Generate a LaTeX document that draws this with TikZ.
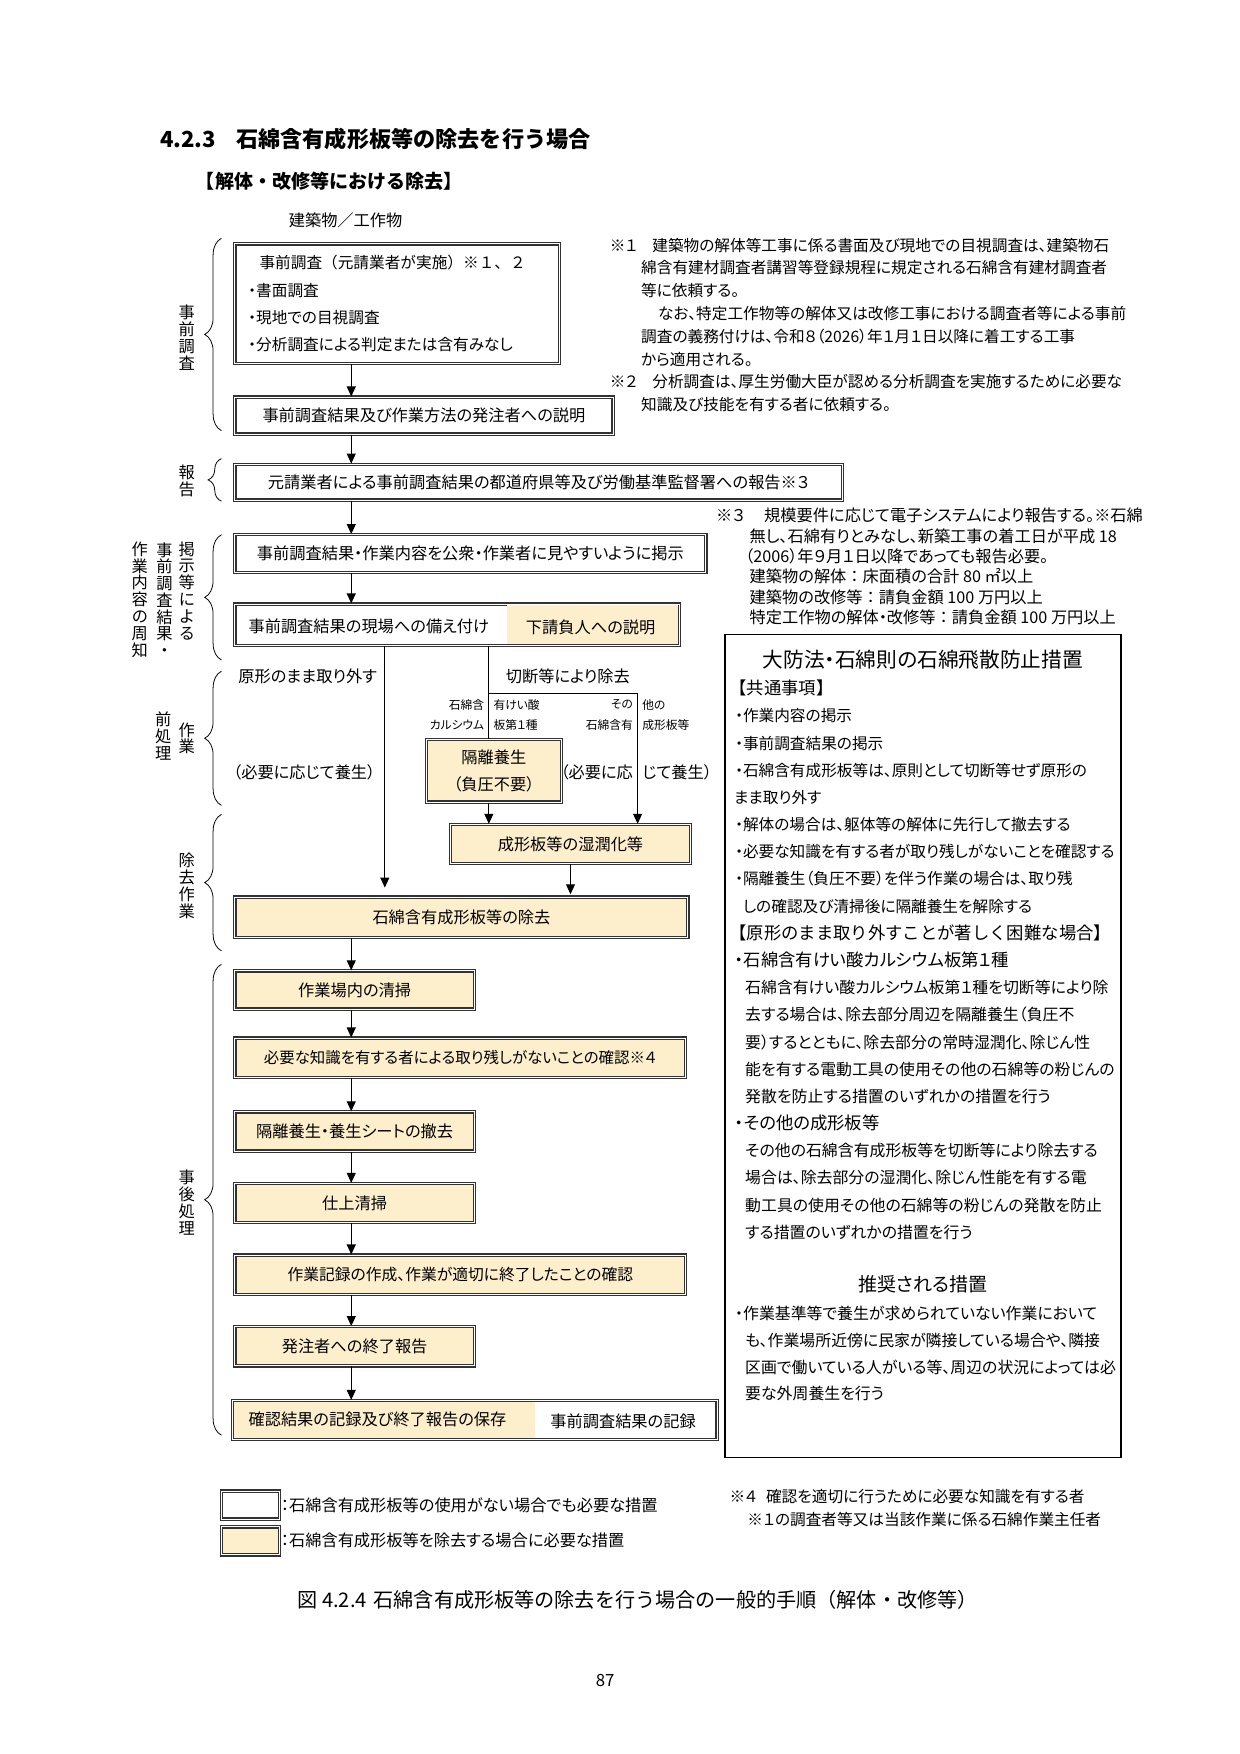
\documentclass[tikz,border=0pt]{standalone}
\usepackage{fontspec}
\setmainfont{Noto Sans CJK JP}[RawFeature=+palt]
\newfontfamily\fw{Noto Sans CJK JP}
\usetikzlibrary{arrows.meta,decorations.pathreplacing,calc}
\definecolor{beige}{RGB}{253,239,204}
\newcommand{\myfs}[2]{\fontsize{#1}{#2}\selectfont}
\tikzset{
 box/.style={draw=black!80, double=white, double distance=0.9pt, line width=1.05pt, fill=white, inner sep=0pt, font=\myfs{14.5}{17}},
 bbox/.style={box, fill=beige},
 arr/.style={line width=1.1pt, -{Triangle[length=9pt,width=8pt]}},
 ln/.style={line width=1.1pt},
 brc/.style={decorate, decoration={brace, amplitude=15pt}, line width=0.7pt},
 vlab/.style={align=center, inner sep=0pt, font=\myfs{14.5}{15}},
 txt/.style={inner sep=0pt, font=\myfs{14.5}{17}},
 small/.style={inner sep=0pt, font=\myfs{10.5}{12}},
 blk/.style={inner sep=0pt, align=left}
}
\begin{document}
\begin{tikzpicture}[x=1pt,y=-1pt]
\useasboundingbox (0,0) rectangle (1108,1568);
\fill[white] (0,0) rectangle (1108,1568);

% headings
\node[anchor=west, inner sep=0pt, font=\fw\bfseries\myfs{19.8}{22}] (title) at (143,124) {4.2.3\hspace{18pt}石綿含有成形板等の除去を行う場合};
\node[anchor=west, inner sep=0pt, font=\fw\bfseries\myfs{17}{20}] (sub) at (175,162) {【解体・改修等における除去】};
\node[anchor=west, txt] (bld) at (258,197) {建築物／工作物};

% braces
\draw[brc] (198,385) -- (198,213);
\draw[brc, decoration={brace, amplitude=12pt}] (198,448) -- (198,410);
\draw[brc] (198,590) -- (198,478);
\draw[brc] (198,720) -- (198,600);
\draw[brc] (198,850) -- (198,728);
\draw[brc] (198,1283) -- (198,862);

% vertical labels
\node[vlab] (v1) at (167,302) {事\\前\\調\\査};
\node[vlab] (v2) at (167,430) {報\\告};
\node[vlab] (v3a) at (167,528) {掲\\示\\等\\に\\よ\\る};
\node[vlab] (v3b) at (147,536) {事\\前\\調\\査\\結\\果\\・};
\node[vlab] (v3c) at (125,536) {作\\業\\内\\容\\の\\周\\知};
\node[vlab] (v4a) at (167,660) {作\\業};
\node[vlab] (v4b) at (146,658) {前\\処\\理};
\node[vlab] (v5) at (167,792) {除\\去\\作\\業};
\node[vlab] (v6) at (167,1075) {事\\後\\処\\理};

% main flow boxes
\node[box, minimum width=290pt, minimum height=107pt, text width=266pt, align=left, font=\myfs{14}{24.5}] (b1) at (355,271.5)
 {\hspace*{10pt}{\fw 事前調査（元請業者が実施）※１、２}\\・書面調査\\・現地での目視調査\\・分析調査による判定または含有みなし};
\node[box, minimum width=338pt, minimum height=33pt] (b2) at (379,371.5) {事前調査結果及び作業方法の発注者への説明};
\node[box, minimum width=543pt, minimum height=32pt] (b3) at (481.5,431) {元請業者による事前調査結果の都道府県等及び労働基準監督署への報告※３};
\node[box, minimum width=421pt, minimum height=34pt] (b4) at (420.5,495) {事前調査結果・作業内容を公衆・作業者に見やすいように掲示};
\node[box, minimum width=397pt, minimum height=37pt] (b5) at (408.5,558.5) {};
\fill[beige] ($(b5.north east)+(-1.6,1.6)$) rectangle ($(b5.south east -| 453,0)+(0,-1.6)$);
\node[txt, anchor=west] (b5a) at (222,560) {事前調査結果の現場への備え付け};
\node[txt] (b5b) at (528,561) {下請負人への説明};

\node[bbox, minimum width=121pt, minimum height=56pt, align=center, font=\myfs{14.5}{24}] (kakuri) at (441.5,689) {隔離養生\\（負圧不要）};
\node[bbox, minimum width=214pt, minimum height=35pt] (shitsu) at (510,754.5) {成形板等の湿潤化等};
\node[bbox, minimum width=405pt, minimum height=36pt] (jokyo) at (412.5,820) {石綿含有成形板等の除去};
\node[bbox, minimum width=214pt, minimum height=34pt] (c1) at (317,885) {作業場内の清掃};
\node[bbox, minimum width=403pt, minimum height=35pt, font=\myfs{13.8}{17}] (c2) at (411.5,945.5) {必要な知識を有する者による取り残しがないことの確認※４};
\node[bbox, minimum width=214pt, minimum height=35pt] (c3) at (317,1011.5) {隔離養生・養生シートの撤去};
\node[bbox, minimum width=214pt, minimum height=35pt] (c4) at (317,1075.5) {仕上清掃};
\node[bbox, minimum width=403pt, minimum height=35pt, font=\myfs{14.1}{17}] (c5) at (411.5,1139.5) {作業記録の作成、作業が適切に終了したことの確認};
\node[bbox, minimum width=214pt, minimum height=35pt] (c6) at (317,1203.5) {発注者への終了報告};
\node[box, minimum width=433pt, minimum height=35pt] (c7) at (424.5,1269.5) {};
\fill[beige] ($(c7.north west)+(1.6,1.6)$) rectangle ($(c7.south west -| 478,0)+(0,-1.6)$);
\node[txt, anchor=west] (c7a) at (222,1269) {確認結果の記録及び終了報告の保存};
\node[txt] (c7b) at (557,1271) {事前調査結果の記録};

% branch labels
\node[txt] (lg) at (275,605) {原形のまま取り外す};
\node[txt, anchor=west] (lc) at (452,605) {切断等により除去};
\node[txt] (ly) at (272,690) {（必要に応じて養生）};
\node[small, anchor=east] (s1) at (433,630) {石綿含};
\node[small, anchor=west] (s2) at (441,630) {有けい酸};
\node[small, anchor=east] (s3) at (433,648) {カルシウム};
\node[small, anchor=west] (s4) at (441,648) {板第１種};
\node[small, anchor=east] (s5) at (566,630) {その};
\node[small, anchor=west] (s6) at (574,630) {他の};
\node[small, anchor=east] (s7) at (566,648) {石綿含有};
\node[small, anchor=west] (s8) at (574,648) {成形板等};
\node[txt, anchor=east] (y1) at (566,690) {（必要に応};
\node[txt, anchor=west] (y2) at (574,690) {じて養生）};

% connectors
\coordinate (xa) at (314,0);
\coordinate (xl) at (344,0);
\coordinate (sp) at (437,620);
\coordinate (sq) at (570,620);
\draw[arr] (b1.south -| xa) -- (b2.north -| xa);
\draw[arr] (b2.south -| xa) -- (b3.north -| xa);
\draw[arr] (b3.south -| xa) -- (b4.north -| xa);
\draw[arr] (b4.south -| xa) -- (b5.north -| xa);
\draw[arr] (b5.south -| xl) -- ($(jokyo.north -| xl)+(0,-8)$);
\draw[ln] (b5.south -| sp) -- (sp) -- (sq);
\draw[ln] (sp) -- (kakuri.north -| sp);
\draw[arr] (sq) -- (shitsu.north -| sq);
\draw[arr] (kakuri.south -| sp) -- (shitsu.north -| sp);
\draw[arr] (shitsu.south) -- ($(jokyo.north -| shitsu.south)+(0,-2)$);
\draw[arr] (jokyo.south -| xa) -- (c1.north -| xa);
\draw[arr] (c1.south -| xa) -- (c2.north -| xa);
\draw[arr] (c2.south -| xa) -- (c3.north -| xa);
\draw[arr] (c3.south -| xa) -- (c4.north -| xa);
\draw[arr] (c4.south -| xa) -- (c5.north -| xa);
\draw[arr] (c5.south -| xa) -- (c6.north -| xa);
\draw[arr] (c6.south -| xa) -- (c7.north -| xa);

% notes top right
\node[blk, anchor=west, font=\myfs{14}{20.4}] (n12) at (545,290.5) {%
\makebox[38pt][l]{※１}建築物の解体等工事に係る書面及び現地での目視調査は、建築物石\\
\hspace*{28pt}綿含有建材調査者講習等登録規程に規定される石綿含有建材調査者\\
\hspace*{28pt}等に依頼する。\\
\hspace*{43pt}なお、特定工作物等の解体又は改修工事における調査者等による事前\\
\hspace*{28pt}調査の義務付けは、令和８（2026）年１月１日以降に着工する工事\\
\hspace*{28pt}から適用される。\\
\makebox[38pt][l]{※２}分析調査は、厚生労働大臣が認める分析調査を実施するために必要な\\
\hspace*{28pt}知識及び技能を有する者に依頼する。};

\node[blk, anchor=west, font=\myfs{14.5}{18.2}] (n3) at (640,506.5) {%
\makebox[43pt][l]{※３}規模要件に応じて電子システムにより報告する。※石綿\\
\hspace*{30pt}無し、石綿有りとみなし、新築工事の着工日が平成 18\\
\hspace*{26pt}（2006）年９月１日以降であっても報告必要。\\
\hspace*{30pt}建築物の解体{\fw ：}床面積の合計 80 ㎡以上\\
\hspace*{30pt}建築物の改修等{\fw ：}請負金額 100 万円以上\\
\hspace*{30pt}特定工作物の解体・改修等{\fw ：}請負金額 100 万円以上};

% right box
\node[draw, line width=1.2pt, minimum width=354pt, minimum height=736pt, inner sep=0pt] (rbox) at (825,935) {};
\node[txt, font=\myfs{18.5}{20}] (rh1) at (825,590) {大防法・石綿則の石綿飛散防止措置};
\node[blk, anchor=west, font=\myfs{14}{24.3}] (rt1) at (652,724.5) {%
{\fw\myfs{15.5}{24.3}【共通事項】}\\
\hspace*{5pt}・作業内容の掲示\\
\hspace*{5pt}・事前調査結果の掲示\\
\hspace*{5pt}・石綿含有成形板等は、原則として切断等せず原形の\\
\hspace*{4pt}まま取り外す\\
\hspace*{5pt}・解体の場合は、躯体等の解体に先行して撤去する\\
\hspace*{5pt}・必要な知識を有する者が取り残しがないことを確認する\\
\hspace*{5pt}・隔離養生（負圧不要）を伴う作業の場合は、取り残\\
\hspace*{12pt}しの確認及び清掃後に隔離養生を解除する\\
{\fw\myfs{15.5}{24.3}【原形のまま取り外すことが著しく困難な場合】}};
\node[blk, anchor=west, font=\myfs{14.2}{24.3}] (rt2) at (652,979.5) {%
\hspace*{5pt}{\myfs{15.5}{24.3}・石綿含有けい酸カルシウム板第１種}\\
\hspace*{14pt}石綿含有けい酸カルシウム板第１種を切断等により除\\
\hspace*{14pt}去する場合は、除去部分周辺を隔離養生（負圧不\\
\hspace*{14pt}要）するとともに、除去部分の常時湿潤化、除じん性\\
\hspace*{14pt}能を有する電動工具の使用その他の石綿等の粉じんの\\
\hspace*{14pt}発散を防止する措置のいずれかの措置を行う\\
\hspace*{5pt}{\myfs{15.5}{24.3}・その他の成形板等}\\
\hspace*{14pt}その他の石綿含有成形板等を切断等により除去する\\
\hspace*{14pt}場合は、除去部分の湿潤化、除じん性能を有する電\\
\hspace*{14pt}動工具の使用その他の石綿等の粉じんの発散を防止\\
\hspace*{14pt}する措置のいずれかの措置を行う};
\node[txt, font=\myfs{17}{20}] (rh2) at (825,1148) {推奨される措置};
\node[blk, anchor=west, font=\myfs{14.2}{24}] (rt3) at (657,1210) {%
・作業基準等で養生が求められていない作業において\\
\hspace*{9pt}も、作業場所近傍に民家が隣接している場合や、隣接\\
\hspace*{9pt}区画で働いている人がいる等、周辺の状況によっては必\\
\hspace*{9pt}要な外周養生を行う};

% legend
\node[box, minimum width=52pt, minimum height=25pt] (lg1) at (224,1345.5) {};
\node[bbox, minimum width=52pt, minimum height=25pt] (lg2) at (224,1377.5) {};
\node[txt, anchor=west, font=\myfs{14.5}{17}] (lt1) at (251,1346) {：石綿含有成形板等の使用がない場合でも必要な措置};
\node[txt, anchor=west, font=\myfs{14.5}{17}] (lt2) at (251,1377) {：石綿含有成形板等を除去する場合に必要な措置};
\node[blk, anchor=west, font=\myfs{14}{20}] (n4) at (652,1348) {%
※４\hspace{8pt}確認を適切に行うために必要な知識を有する者\\
\hspace*{16pt}※１の調査者等又は当該作業に係る石綿作業主任者};

% caption
\node[txt, font=\fw\myfs{18}{20}] (cap) at (570,1430) {図 4.2.4\hspace{6pt}石綿含有成形板等の除去を行う場合の一般的手順（解体・改修等）};
\node[txt, font=\myfs{15}{17}] (pg) at (541,1502) {87};
\end{tikzpicture}
\end{document}
